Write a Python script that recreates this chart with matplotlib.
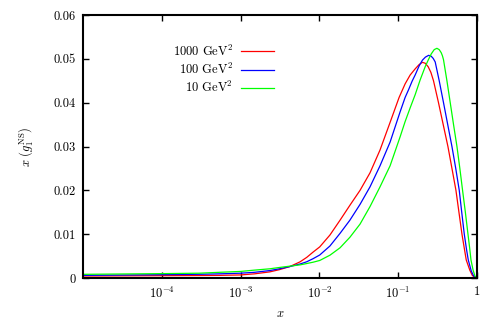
import numpy as np
import matplotlib
matplotlib.use('Agg')
from matplotlib import pyplot as plt

plt.rcParams['font.family'] = 'serif'
plt.rcParams['font.serif'] = ['cmr10', 'DejaVu Serif']
plt.rcParams['mathtext.fontset'] = 'cm'
plt.rcParams['axes.formatter.use_mathtext'] = True

# curves: x, x*g1^NS
x_1000 = [1e-5, 1e-4, 0.0003, 0.00054, 0.001, 0.0015, 0.00235, 0.0031, 0.0042, 0.0057,
          0.0069, 0.0083, 0.0101, 0.0136, 0.0183, 0.0244, 0.0328, 0.0439, 0.0588, 0.0789,
          0.1027, 0.1225, 0.1417, 0.164, 0.1845, 0.203, 0.22, 0.24, 0.26, 0.2805,
          0.3246, 0.3725, 0.4276, 0.481, 0.5405, 0.59, 0.6444, 0.6895, 0.7307, 0.81,
          0.871, 0.9376, 1.0]
y_1000 = [0.00046, 0.00053, 0.00057, 0.0006, 0.0007, 0.00095, 0.0014, 0.0019, 0.0026, 0.0037,
          0.0047, 0.0059, 0.0071, 0.0098, 0.0132, 0.0166, 0.0200, 0.0240, 0.0292, 0.0355,
          0.0412, 0.0443, 0.0463, 0.0477, 0.0487, 0.0492, 0.0490, 0.0482, 0.0469, 0.0450,
          0.0400, 0.0350, 0.0300, 0.0250, 0.0200, 0.0150, 0.0100, 0.0068, 0.0041, 0.0018,
          0.0006, 0.0001, 0.0]

x_100 = [1e-5, 1e-4, 0.0003, 0.00054, 0.001, 0.0015, 0.00235, 0.0031, 0.0042, 0.0057,
         0.0069, 0.0083, 0.0101, 0.0136, 0.0183, 0.0244, 0.0328, 0.0439, 0.0588, 0.0789,
         0.1057, 0.1225, 0.135, 0.1502, 0.164, 0.1845, 0.203, 0.2218, 0.2436, 0.2622,
         0.278, 0.2947, 0.3314, 0.3758, 0.425, 0.4808, 0.5373, 0.5953, 0.64, 0.6895,
         0.735, 0.775, 0.8461, 0.905, 0.96, 1.0]
y_100 = [0.0006, 0.00076, 0.00085, 0.00095, 0.0011, 0.0013, 0.0017, 0.0021, 0.0026, 0.0032,
         0.0037, 0.0044, 0.00525, 0.0073, 0.0102, 0.0132, 0.0168, 0.0208, 0.0256, 0.0310,
         0.0379, 0.0412, 0.0429, 0.0449, 0.0463, 0.0484, 0.0497, 0.0504, 0.0508, 0.0506,
         0.0501, 0.0493, 0.0450, 0.0400, 0.0350, 0.0300, 0.0250, 0.0200, 0.0150, 0.0100,
         0.0066, 0.0041, 0.0016, 0.0005, 0.0001, 0.0]

x_10 = [1e-5, 1e-4, 0.0003, 0.00054, 0.001, 0.0015, 0.00235, 0.0031, 0.0042, 0.0057,
        0.0069, 0.0083, 0.0101, 0.0136, 0.0183, 0.0244, 0.0328, 0.0439, 0.0588, 0.0789,
        0.1057, 0.1225, 0.1417, 0.164, 0.19, 0.22, 0.24, 0.2622, 0.2862, 0.3099,
        0.3314, 0.3514, 0.364, 0.3758, 0.4152, 0.4574, 0.5038, 0.5566, 0.6058, 0.6558,
        0.7117, 0.7683, 0.805, 0.8388, 0.892, 0.94, 0.975, 1.0]
y_10 = [0.00084, 0.0010, 0.0011, 0.0013, 0.0015, 0.0018, 0.0021, 0.0024, 0.0027, 0.0030,
        0.0033, 0.0036, 0.0040, 0.0052, 0.0069, 0.0093, 0.0123, 0.0163, 0.0208, 0.0256,
        0.0322, 0.0357, 0.0388, 0.0418, 0.0452, 0.0482, 0.0497, 0.0511, 0.0521, 0.0524,
        0.0521, 0.0514, 0.0507, 0.0498, 0.0450, 0.0400, 0.0350, 0.0300, 0.0250, 0.0200,
        0.0150, 0.0100, 0.0070, 0.0041, 0.0018, 0.0005, 0.0001, 0.0]

labels = ['1000 GeV$^2$', '100 GeV$^2$', '10 GeV$^2$']
colors = ['#ff0000', '#0000ff', '#00ff00']

xticks = [1e-4, 1e-3, 1e-2, 1e-1, 1]
xticklabels = ['$10^{-4}$', '$10^{-3}$', '$10^{-2}$', '$10^{-1}$', '1']
yticks = [0, 0.01, 0.02, 0.03, 0.04, 0.05, 0.06]
yticklabels = ['0', '0.01', '0.02', '0.03', '0.04', '0.05', '0.06']

fig = plt.figure(figsize=(4.96, 3.19), dpi=100)
ax = fig.add_axes([0.1673, 0.1285, 0.7944, 0.8245])

for xs, ys, lab, c in zip([x_1000, x_100, x_10], [y_1000, y_100, y_10], labels, colors):
    ax.plot(xs, ys, color=c, lw=0.9, label=lab)

ax.set_xscale('log')
ax.set_xlim(1e-5, 1)
ax.set_ylim(0, 0.06)
ax.set_xticks(xticks)
ax.set_xticklabels(xticklabels)
ax.minorticks_off()
ax.set_yticks(yticks)
ax.set_yticklabels(yticklabels)
ax.tick_params(direction='in', length=4, width=1, top=True, right=True,
               labelsize=9, pad=5.5)
for s in ax.spines.values():
    s.set_linewidth(1.5)

ax.set_xlabel('$x$', fontsize=9, labelpad=5)
ax.set_ylabel(r'$x\ \left(g_1^{\rm NS}\right)$', fontsize=9, labelpad=12)

# gnuplot-style key: text right-aligned, sample on the right
ax.legend(loc='upper right', bbox_to_anchor=(0.50, 0.915), frameon=False,
          markerfirst=False, fontsize=9, handlelength=2.64,
          handletextpad=0.6, labelspacing=0.25, borderpad=0)

fig.savefig('out.png', dpi=100)
